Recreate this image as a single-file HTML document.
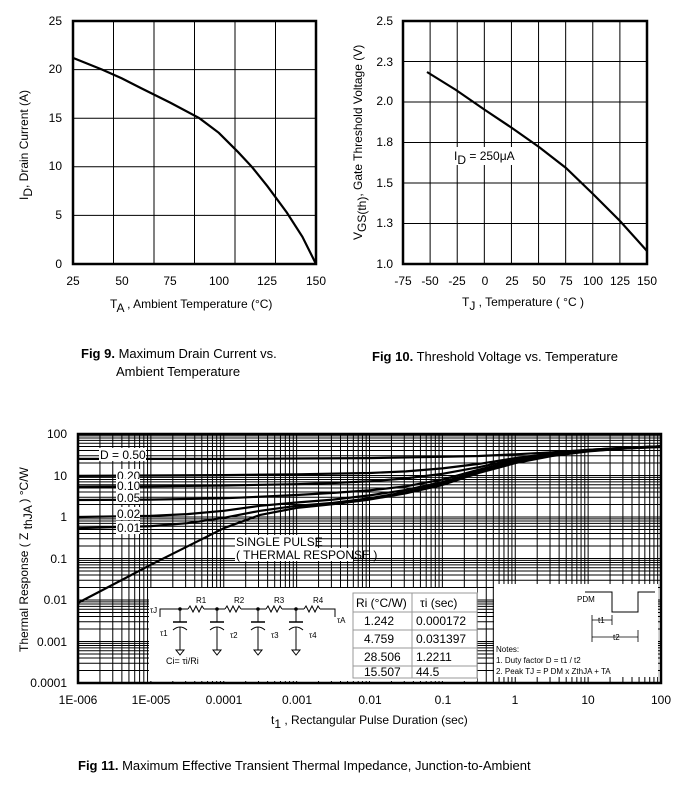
<!DOCTYPE html>
<html><head><meta charset="utf-8">
<style>
html,body{margin:0;padding:0;background:#fff;}
svg{display:block;font-family:"Liberation Sans",Arial,sans-serif;}
</style></head>
<body>
<svg id="s" width="684" height="785" viewBox="0 0 684 785" xmlns="http://www.w3.org/2000/svg">
<rect width="684" height="785" fill="#fff"/>
<g id="g9" stroke="#000" stroke-width="1" fill="none"></g>
<g id="g10" stroke="#000" stroke-width="1" fill="none"></g>
<g id="g11" stroke="#000" stroke-width="1" fill="none"></g>
<g id="t" font-size="12" fill="#000"></g>

<!-- Fig 9 labels -->
<g font-size="12" text-anchor="end">
<text x="62" y="25">25</text><text x="62" y="73">20</text><text x="62" y="122">15</text>
<text x="62" y="170">10</text><text x="62" y="219">5</text><text x="62" y="268">0</text>
</g>
<g font-size="12" text-anchor="middle">
<text x="73" y="285">25</text><text x="122" y="285">50</text><text x="170" y="285">75</text>
<text x="219" y="285">100</text><text x="267" y="285">125</text><text x="316" y="285">150</text>
</g>
<text x="110" y="308" font-size="12">T<tspan font-size="12" dy="4">A</tspan><tspan dy="-4"> , Ambient Temperature (°C)</tspan></text>
<text transform="translate(28,200) rotate(-90)" font-size="12">I<tspan dy="4">D</tspan><tspan dy="-4">,  Drain Current (A)</tspan></text>
<text x="81" y="358" font-size="13"><tspan font-weight="bold">Fig 9.</tspan>  Maximum Drain Current vs.</text>
<text x="116" y="376" font-size="13">Ambient Temperature</text>

<!-- Fig 10 labels -->
<g font-size="12" text-anchor="end">
<text x="393" y="25">2.5</text><text x="393" y="66">2.3</text><text x="393" y="105">2.0</text>
<text x="393" y="146">1.8</text><text x="393" y="187">1.5</text><text x="393" y="227">1.3</text><text x="393" y="268">1.0</text>
</g>
<g font-size="12" text-anchor="middle">
<text x="403" y="285">-75</text><text x="430" y="285">-50</text><text x="457" y="285">-25</text>
<text x="485" y="285">0</text><text x="512" y="285">25</text><text x="539" y="285">50</text>
<text x="566" y="285">75</text><text x="593" y="285">100</text><text x="620" y="285">125</text><text x="647" y="285">150</text>
</g>
<text x="462" y="306" font-size="12">T<tspan dy="4">J</tspan><tspan dy="-4"> , Temperature ( °C )</tspan></text>
<text transform="translate(362,240) rotate(-90)" font-size="12">V<tspan dy="4">GS(th)</tspan><tspan dy="-4">, Gate Threshold Voltage (V)</tspan></text>
<text x="454" y="160" font-size="12" >I<tspan dy="4">D</tspan><tspan dy="-4"> = 250μA</tspan></text>
<text x="372" y="361" font-size="13"><tspan font-weight="bold">Fig 10.</tspan>  Threshold Voltage vs. Temperature</text>

<!-- Fig 11 labels -->
<g font-size="12" text-anchor="end">
<text x="67" y="438">100</text><text x="67" y="480">10</text><text x="67" y="521">1</text>
<text x="67" y="563">0.1</text><text x="67" y="604">0.01</text><text x="67" y="646">0.001</text><text x="67" y="687">0.0001</text>
</g>
<g font-size="12" text-anchor="middle">
<text x="78" y="704">1E-006</text><text x="151" y="704">1E-005</text><text x="224" y="704">0.0001</text>
<text x="297" y="704">0.001</text><text x="370" y="704">0.01</text><text x="443" y="704">0.1</text>
<text x="515" y="704">1</text><text x="588" y="704">10</text><text x="661" y="704">100</text>
</g>
<text x="271" y="724" font-size="12">t<tspan dy="4">1</tspan><tspan dy="-4"> , Rectangular Pulse Duration (sec)</tspan></text>
<text transform="translate(28,652) rotate(-90)" font-size="12">Thermal Response ( Z <tspan dy="4">thJA</tspan><tspan dy="-4"> ) °C/W</tspan></text>
<text x="78" y="770" font-size="13"><tspan font-weight="bold">Fig 11.</tspan>  Maximum Effective Transient Thermal Impedance, Junction-to-Ambient</text>
</svg>
<script>
var NS="http://www.w3.org/2000/svg";
function el(p,n,a,txt){var e=document.createElementNS(NS,n);for(var k in a)e.setAttribute(k,a[k]);if(txt!==undefined)e.textContent=txt;p.appendChild(e);return e;}
function line(p,x1,y1,x2,y2,w){el(p,'line',{x1:x1,y1:y1,x2:x2,y2:y2,'stroke-width':w||1});}
var s=document.getElementById('s');
// Fig 9
var g9=document.getElementById('g9');
(function(){var L=73,R=316,T=21,B=264;
for(var i=1;i<6;i++){var x=L+(R-L)*i/6;line(g9,x,T,x,B);}
for(var i=1;i<5;i++){var y=T+(B-T)*i/5;line(g9,L,y,R,y);}
el(g9,'rect',{x:L,y:T,width:R-L,height:B-T,'stroke-width':2.5});
var pts=[[25,21.2],[40,20],[50,19.1],[60,18.1],[75,16.6],[90,15.0],[100,13.5],[110,11.5],[117,10.0],[125,8],[135,5.3],[143,2.8],[150,0]];
var d=pts.map(function(p,i){return (i?'L':'M')+(L+(p[0]-25)/125*(R-L)).toFixed(1)+' '+(B-p[1]/25*(B-T)).toFixed(1);}).join(' ');
el(g9,'path',{d:d,'stroke-width':2.2});})();
// Fig 10
var g10=document.getElementById('g10');
(function(){var L=403,R=647,T=21,B=264;
for(var i=1;i<9;i++){var x=L+(R-L)*i/9;line(g10,x,T,x,B);}
for(var i=1;i<6;i++){var y=T+(B-T)*i/6;line(g10,L,y,R,y);}
el(g10,'rect',{x:L,y:T,width:R-L,height:B-T,'stroke-width':2.5});
el(g10,'path',{d:'M427 72 L456 90 L485 110 L512 128 L539 147 L566 168 L593 194 L620 221 L647 251','stroke-width':2.2});
el(g10,'rect',{x:452,y:147,width:72,height:18,fill:'#fff',stroke:'none'});})();
// Fig 11
var g11=document.getElementById('g11');
var L=78,R=661,T=434,B=683,DX=(R-L)/8,DY=(B-T)/6;
function X(lt){return L+(lt+6)*DX;} function Y(lz){return B-(lz+4)*DY;}
for(var d=-6;d<2;d++)for(var m=1;m<10;m++){var x=X(d+Math.log10(m));line(g11,x,T,x,B);}
for(var d=-4;d<2;d++)for(var m=1;m<10;m++){var y=Y(d+Math.log10(m));line(g11,L,y,R,y);}
// curves
var curves=[
[[-6,-2.07],[-5,-1.15],[-4,-0.27],[-3.5,0.05],[-3,0.22],[-2.5,0.31],[-2,0.42],[-1.5,0.57],[-1,0.77],[-0.5,1.06],[0,1.3],[0.5,1.47],[1,1.58],[1.5,1.65],[2,1.69]],
[[-6,-0.27],[-5,-0.22],[-4.5,-0.15],[-4,-0.02],[-3.5,0.15],[-3,0.27],[-2.5,0.34],[-2,0.45],[-1.5,0.6],[-1,0.8],[-0.5,1.08],[0,1.32],[0.5,1.48],[1,1.59],[1.5,1.65],[2,1.69]],
[[-6,0.0],[-5,0.03],[-4.5,0.07],[-4,0.15],[-3.5,0.27],[-3,0.35],[-2.5,0.42],[-2,0.52],[-1.5,0.65],[-1,0.84],[-0.5,1.1],[0,1.34],[0.5,1.49],[1,1.6],[1.5,1.66],[2,1.7]],
[[-6,0.41],[-5,0.42],[-4,0.45],[-3.5,0.49],[-3,0.53],[-2.5,0.58],[-2,0.64],[-1.5,0.74],[-1,0.9],[-0.5,1.14],[0,1.36],[0.5,1.5],[1,1.6],[1.5,1.66],[2,1.7]],
[[-6,0.73],[-5,0.74],[-4,0.76],[-3,0.79],[-2.5,0.82],[-2,0.86],[-1.5,0.93],[-1,1.04],[-0.5,1.2],[0,1.39],[0.5,1.51],[1,1.61],[1.5,1.66],[2,1.7]],
[[-6,0.99],[-5,1.0],[-4,1.01],[-3,1.03],[-2,1.06],[-1.5,1.1],[-1,1.17],[-0.5,1.28],[0,1.42],[0.5,1.53],[1,1.62],[1.5,1.67],[2,1.7]],
[[-6,1.4],[-4,1.4],[-3,1.41],[-2,1.42],[-1,1.45],[-0.5,1.47],[0,1.51],[0.5,1.56],[1,1.62],[1.5,1.67],[2,1.7]]];
curves.forEach(function(c){var d=c.map(function(p,i){return (i?'L':'M')+X(p[0]).toFixed(1)+' '+Y(p[1]).toFixed(1);}).join(' ');el(g11,'path',{d:d,'stroke-width':2.2,'stroke-linejoin':'round'});});
el(g11,'rect',{x:L,y:T,width:R-L,height:B-T,'stroke-width':2.5});
// labels with white bg
var t=document.getElementById('t');
function lab(x,y,w,str){el(t,'rect',{x:x,y:y-11,width:w,height:13,fill:'#fff'});el(t,'text',{x:x+1,y:y},str);}
lab(99,459,47,'D = 0.50');lab(116,480,24,'0.20');lab(116,490,24,'0.10');lab(116,502,24,'0.05');lab(116,518,24,'0.02');lab(116,532,24,'0.01');
lab(235,546,80,'SINGLE PULSE');lab(235,559,118,'( THERMAL RESPONSE )');
// inset boxes
el(t,'rect',{x:149,y:588,width:328,height:93,fill:'#fff'});
el(t,'rect',{x:494,y:584,width:164,height:93,fill:'#fff'});
// table
var tb=el(s,'g',{stroke:'#999','stroke-width':1,fill:'none'});
el(tb,'rect',{x:353,y:593,width:124,height:85});
[612,630,648,666].forEach(function(y){line(tb,353,y,477,y);});
line(tb,412,593,412,678);
var tt=el(s,'g',{'font-size':12,fill:'#000'});
el(tt,'text',{x:356,y:607},'Ri (°C/W)');el(tt,'text',{x:420,y:607},'τi (sec)');
[['1.242','0.000172',625],['4.759','0.031397',643],['28.506','1.2211',661],['15.507','44.5',676]].forEach(function(r){el(tt,'text',{x:364,y:r[2]},r[0]);el(tt,'text',{x:416,y:r[2]},r[1]);});
// circuit
var c=el(s,'g',{stroke:'#000','stroke-width':1,fill:'none'});
var wy=609;
el(c,'path',{d:'M160 617 L160 '+wy+' L335 '+wy+' L335 617'});
[180,217,258,296].forEach(function(x,i){
 el(c,'circle',{cx:x,cy:wy,r:1.3,fill:'#000'});
 line(c,x,wy,x,622);line(c,x-7,622,x+7,622,1.5);
 el(c,'path',{d:'M'+(x-7)+' 630 Q'+x+' 624 '+(x+7)+' 630'});
 line(c,x,627,x,650);el(c,'path',{d:'M'+(x-4)+' 650 L'+(x+4)+' 650 L'+x+' 655 Z'});
 var rx=x+8;el(c,'rect',{x:rx,y:wy-3,width:16,height:6,fill:'#fff',stroke:'none'});
 el(c,'path',{d:'M'+rx+' '+wy+' l2 -3 l3 6 l3 -6 l3 6 l3 -6 l2 3'});
});
var ct=el(s,'g',{'font-size':8,fill:'#000'});
[[196,'R1'],[234,'R2'],[274,'R3'],[313,'R4']].forEach(function(a){el(ct,'text',{x:a[0],y:603},a[1]);});
el(ct,'text',{x:150,y:613},'τJ');el(ct,'text',{x:337,y:623},'τA');
[[160,636,'τ1'],[230,638,'τ2'],[271,638,'τ3'],[309,638,'τ4']].forEach(function(a){el(ct,'text',{x:a[0],y:a[1]},a[2]);});
el(s,'text',{x:166,y:664,'font-size':9},'Ci= τi/Ri');
// notes
var n=el(s,'g',{'font-size':8,fill:'#000'});
el(n,'text',{x:496,y:652},'Notes:');
el(n,'text',{x:496,y:663},'1. Duty factor D = t1 / t2');
el(n,'text',{x:496,y:674},'2. Peak TJ = P DM x ZthJA + TA');
el(s,'path',{d:'M585 592 L612 592 L612 612 L638 612 L638 592 L655 592',stroke:'#000',fill:'none'});
el(n,'text',{x:577,y:602},'PDM');
el(s,'path',{d:'M592 620 L612 620 M592 637 L638 637 M592 615 L592 642 M612 615 L612 625 M638 630 L638 642',stroke:'#000',fill:'none','stroke-width':0.8});
el(n,'text',{x:598,y:623},'t1');el(n,'text',{x:613,y:640},'t2');
</script>
</body></html>
